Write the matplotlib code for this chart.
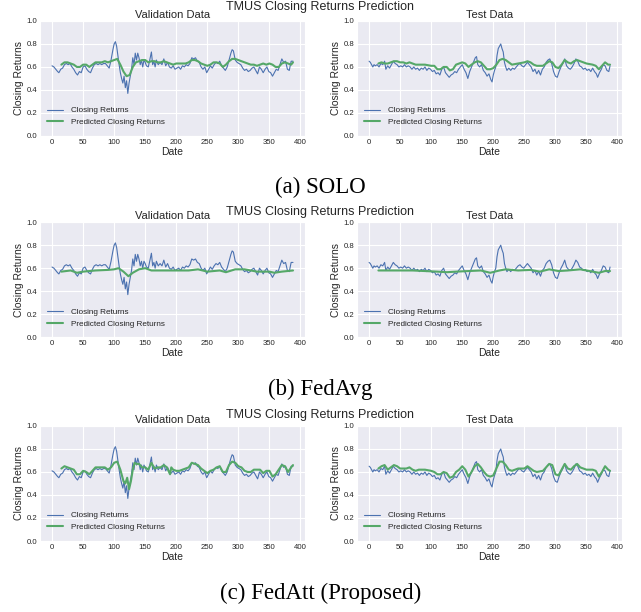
import numpy as np
import matplotlib
matplotlib.use("Agg")
import matplotlib.pyplot as plt
import seaborn as sns

val_days = [0, 3, 6, 9, 11, 14, 17, 20, 23, 26,
            29, 32, 35, 38, 41, 44, 47, 50, 53, 56,
            59, 62, 65, 68, 71, 74, 77, 80, 83, 86,
            89, 92, 95, 98, 100, 102, 104, 106, 108, 110,
            112, 114, 116, 118, 120, 122, 124, 126, 128, 130,
            132, 134, 136, 138, 140, 142, 144, 146, 148, 150,
            152, 155, 158, 160, 162, 164, 166, 168, 171, 174,
            177, 180, 183, 186, 189, 192, 195, 198, 201, 204,
            207, 210, 213, 216, 219, 222, 225, 228, 231, 234,
            237, 240, 243, 246, 249, 252, 255, 258, 261, 264,
            267, 270, 273, 276, 279, 282, 285, 288, 290, 292,
            295, 298, 301, 304, 307, 310, 313, 316, 319, 322,
            325, 328, 331, 334, 337, 340, 343, 346, 349, 352,
            355, 358, 361, 364, 367, 370, 373, 376, 379, 382,
            385, 388]
val_actual = [0.61, 0.60, 0.58, 0.56, 0.55, 0.58, 0.59, 0.62, 0.63, 0.62,
              0.63, 0.60, 0.58, 0.55, 0.53, 0.56, 0.55, 0.60, 0.61, 0.58,
              0.56, 0.55, 0.59, 0.62, 0.63, 0.62, 0.63, 0.62, 0.63, 0.63,
              0.61, 0.59, 0.66, 0.75, 0.80, 0.82, 0.78, 0.70, 0.62, 0.55,
              0.50, 0.46, 0.52, 0.42, 0.48, 0.37, 0.46, 0.52, 0.58, 0.68,
              0.62, 0.72, 0.66, 0.72, 0.68, 0.62, 0.66, 0.60, 0.66, 0.64,
              0.61, 0.60, 0.68, 0.73, 0.62, 0.65, 0.60, 0.66, 0.62, 0.64,
              0.62, 0.67, 0.61, 0.64, 0.60, 0.59, 0.61, 0.58, 0.59, 0.60,
              0.58, 0.61, 0.60, 0.62, 0.61, 0.63, 0.68, 0.67, 0.68, 0.65,
              0.64, 0.60, 0.58, 0.60, 0.55, 0.58, 0.61, 0.59, 0.62, 0.64,
              0.63, 0.65, 0.61, 0.59, 0.57, 0.60, 0.66, 0.72, 0.75, 0.74,
              0.66, 0.64, 0.63, 0.62, 0.59, 0.57, 0.58, 0.56, 0.57, 0.59,
              0.60, 0.57, 0.54, 0.60, 0.58, 0.55, 0.58, 0.60, 0.56, 0.55,
              0.52, 0.55, 0.58, 0.57, 0.62, 0.67, 0.64, 0.65, 0.58, 0.57,
              0.65, 0.65]

# validation predictions
val_pred_days = [15, 20, 25, 30, 35, 40, 45, 50, 55, 60, 65, 70, 75, 80, 85, 90, 95, 100, 105,
                 110, 115, 120, 125, 130, 135, 140, 145, 150, 155, 160, 165, 170, 175, 180,
                 185, 190, 195, 200, 205, 210, 215, 220, 225, 230, 235, 240, 245, 250, 255,
                 260, 265, 270, 275, 280, 285, 290, 295, 300, 305, 310, 315, 320, 325, 330,
                 335, 340, 345, 350, 355, 360, 365, 370, 375, 380, 385, 388]
val_solo = [0.62, 0.64, 0.64, 0.63, 0.62, 0.60, 0.60, 0.62, 0.62, 0.60, 0.62, 0.64, 0.64, 0.64,
            0.65, 0.64, 0.65, 0.66, 0.67, 0.62, 0.56, 0.52, 0.53, 0.60, 0.64, 0.65, 0.66, 0.66,
            0.64, 0.65, 0.65, 0.64, 0.64, 0.65, 0.64, 0.63, 0.62, 0.63, 0.63, 0.63, 0.63, 0.64,
            0.66, 0.66, 0.65, 0.63, 0.62, 0.61, 0.62, 0.64, 0.64, 0.63, 0.60, 0.62, 0.65, 0.67,
            0.67, 0.66, 0.65, 0.64, 0.63, 0.62, 0.62, 0.61, 0.62, 0.63, 0.62, 0.63, 0.62, 0.60,
            0.60, 0.63, 0.64, 0.63, 0.62, 0.64]
val_fedavg_days = [15, 30, 40, 50, 70, 90, 100, 107, 115, 123, 130, 140, 150, 160, 180, 200,
                   220, 235, 250, 270, 280, 295, 310, 330, 350, 358, 370, 388]
val_fedavg = [0.57, 0.58, 0.56, 0.57, 0.58, 0.585, 0.59, 0.60, 0.57, 0.53, 0.56, 0.59, 0.60,
              0.58, 0.58, 0.58, 0.58, 0.59, 0.57, 0.58, 0.565, 0.59, 0.59, 0.57, 0.57, 0.56,
              0.57, 0.58]
val_fedatt_days = [15, 20, 25, 30, 35, 40, 45, 50, 55, 60, 65, 70, 75, 80, 85, 90, 95, 100, 105,
                   110, 115, 118, 121, 124, 127, 130, 133, 136, 140, 145, 150, 155, 160, 165,
                   170, 175, 180, 185, 190, 192, 195, 200, 205, 210, 215, 220, 225, 230, 235,
                   240, 245, 250, 255, 260, 265, 270, 275, 280, 285, 290, 295, 300, 305, 310,
                   315, 320, 325, 330, 335, 340, 345, 350, 355, 360, 365, 370, 375, 380, 385, 388]
val_fedatt = [0.63, 0.65, 0.64, 0.63, 0.62, 0.58, 0.58, 0.61, 0.60, 0.58, 0.61, 0.64, 0.64, 0.64,
              0.64, 0.62, 0.64, 0.68, 0.69, 0.62, 0.52, 0.50, 0.55, 0.45, 0.52, 0.62, 0.68, 0.67,
              0.67, 0.64, 0.64, 0.62, 0.68, 0.63, 0.64, 0.64, 0.66, 0.64, 0.58, 0.64, 0.62, 0.61,
              0.61, 0.62, 0.63, 0.64, 0.68, 0.67, 0.66, 0.63, 0.61, 0.59, 0.61, 0.62, 0.64, 0.65,
              0.60, 0.60, 0.66, 0.69, 0.68, 0.65, 0.64, 0.61, 0.60, 0.60, 0.62, 0.62, 0.62, 0.59,
              0.61, 0.61, 0.56, 0.58, 0.62, 0.66, 0.65, 0.60, 0.64, 0.66]

# test set: actual closing returns
test_days = [0, 2, 4, 6, 8, 10, 13, 16, 19, 22,
             25, 27, 30, 33, 36, 39, 42, 45, 48, 51,
             54, 57, 60, 63, 66, 69, 72, 75, 78, 81,
             84, 87, 90, 93, 96, 99, 102, 105, 108, 111,
             114, 117, 120, 123, 126, 129, 132, 135, 138, 141,
             144, 147, 150, 153, 156, 159, 162, 165, 168, 171,
             173, 175, 178, 181, 184, 187, 190, 193, 196, 198,
             200, 202, 204, 206, 208, 210, 212, 214, 216, 218,
             220, 222, 225, 228, 231, 234, 237, 240, 243, 246,
             249, 252, 255, 258, 261, 264, 267, 270, 273, 276,
             279, 282, 285, 288, 291, 294, 297, 300, 303, 306,
             309, 312, 315, 318, 321, 324, 327, 330, 333, 336,
             339, 342, 345, 348, 351, 354, 357, 360, 363, 366,
             368, 371, 374, 377, 380, 383, 386, 388]
test_actual = [0.65, 0.64, 0.62, 0.60, 0.62, 0.61, 0.62, 0.60, 0.63, 0.62,
               0.65, 0.58, 0.61, 0.59, 0.62, 0.65, 0.63, 0.62, 0.60, 0.61,
               0.60, 0.62, 0.60, 0.61, 0.60, 0.58, 0.60, 0.58, 0.59, 0.57,
               0.59, 0.58, 0.60, 0.57, 0.59, 0.58, 0.56, 0.57, 0.54, 0.55,
               0.53, 0.58, 0.60, 0.55, 0.53, 0.51, 0.53, 0.54, 0.56, 0.55,
               0.58, 0.60, 0.62, 0.58, 0.55, 0.50, 0.56, 0.60, 0.64, 0.68,
               0.69, 0.62, 0.60, 0.62, 0.57, 0.55, 0.52, 0.54, 0.49, 0.47,
               0.53, 0.57, 0.60, 0.70, 0.76, 0.78, 0.80, 0.76, 0.73, 0.64,
               0.60, 0.57, 0.59, 0.57, 0.59, 0.58, 0.60, 0.62, 0.63, 0.61,
               0.60, 0.62, 0.64, 0.62, 0.60, 0.56, 0.58, 0.54, 0.57, 0.53,
               0.58, 0.60, 0.64, 0.66, 0.67, 0.63, 0.56, 0.52, 0.51, 0.56,
               0.60, 0.63, 0.67, 0.61, 0.59, 0.58, 0.60, 0.63, 0.67, 0.65,
               0.61, 0.60, 0.58, 0.59, 0.57, 0.58, 0.56, 0.59, 0.56, 0.54,
               0.51, 0.55, 0.58, 0.62, 0.61, 0.57, 0.56, 0.61]

# test predictions
test_pred_days = [15, 20, 25, 30, 35, 40, 45, 50, 55, 60, 65, 70, 75, 80, 90, 100, 105, 110,
                  115, 120, 125, 130, 135, 140, 145, 150, 155, 160, 165, 170, 175, 180, 185,
                  190, 195, 200, 205, 210, 215, 220, 225, 230, 240, 250, 255, 260, 265, 270,
                  280, 285, 290, 295, 300, 305, 310, 315, 320, 325, 330, 335, 340, 345, 350,
                  360, 365, 370, 375, 380, 385, 388]
test_solo = [0.63, 0.64, 0.63, 0.63, 0.64, 0.65, 0.65, 0.64, 0.64, 0.63, 0.64, 0.63, 0.62, 0.62,
             0.62, 0.61, 0.61, 0.58, 0.58, 0.60, 0.60, 0.57, 0.58, 0.62, 0.63, 0.64, 0.63, 0.60,
             0.62, 0.64, 0.65, 0.64, 0.61, 0.58, 0.58, 0.59, 0.62, 0.66, 0.67, 0.66, 0.64, 0.62,
             0.63, 0.64, 0.65, 0.64, 0.62, 0.61, 0.61, 0.63, 0.65, 0.64, 0.60, 0.59, 0.62, 0.66,
             0.64, 0.63, 0.65, 0.66, 0.65, 0.64, 0.63, 0.62, 0.61, 0.58, 0.61, 0.64, 0.62, 0.62]
test_fedatt = [0.63, 0.65, 0.66, 0.62, 0.64, 0.66, 0.65, 0.63, 0.63, 0.63, 0.64, 0.62, 0.61,
               0.62, 0.62, 0.61, 0.60, 0.58, 0.58, 0.60, 0.59, 0.55, 0.56, 0.60, 0.62, 0.65,
               0.62, 0.56, 0.60, 0.65, 0.67, 0.64, 0.60, 0.57, 0.56, 0.57, 0.63, 0.69, 0.69,
               0.66, 0.62, 0.61, 0.63, 0.63, 0.65, 0.63, 0.61, 0.60, 0.61, 0.64, 0.67, 0.66,
               0.58, 0.57, 0.62, 0.67, 0.63, 0.62, 0.65, 0.67, 0.64, 0.63, 0.62, 0.62, 0.61,
               0.56, 0.60, 0.65, 0.62, 0.61]
test_fedavg_days = [15, 30, 50, 70, 90, 110, 125, 140, 160, 180, 195, 210, 220, 240, 260, 275,
                    290, 305, 320, 340, 355, 370, 380, 388]
test_fedavg = [0.58, 0.58, 0.58, 0.58, 0.575, 0.57, 0.565, 0.57, 0.575, 0.58, 0.56, 0.58, 0.59,
               0.58, 0.585, 0.57, 0.59, 0.575, 0.58, 0.59, 0.575, 0.56, 0.575, 0.575]

rows = [
    ("(a) SOLO", (val_pred_days, val_solo), (test_pred_days, test_solo)),
    ("(b) FedAvg", (val_fedavg_days, val_fedavg), (test_fedavg_days, test_fedavg)),
    ("(c) FedAtt (Proposed)", (val_fedatt_days, val_fedatt), (test_pred_days, test_fedatt)),
]

sns.set_style("darkgrid")
plt.rcParams["font.family"] = ["Liberation Sans", "DejaVu Sans"]
plt.rcParams["text.color"] = ".15"
plt.rcParams["axes.labelcolor"] = ".15"
plt.rcParams["xtick.color"] = ".15"
plt.rcParams["ytick.color"] = ".15"

BLUE = "#4C72B0"
GREEN = "#55A868"

fig = plt.figure(figsize=(6.41, 6.12), dpi=100)

row_bottoms = [0.7778, 0.449, 0.116]
row_h = 0.188
lefts = [0.0624, 0.557]
ax_w = 0.4135
suptitle_y = [0.989, 0.654, 0.322]
caption_y = [0.694, 0.364, 0.031]


def draw_panel(ax, days, actual, pdays, pred, title):
    ax.plot(days, actual, color=BLUE, linewidth=0.8, label="Closing Returns")
    ax.plot(pdays, pred, color=GREEN, linewidth=1.5, label="Predicted Closing Returns")
    ax.set_ylim(0, 1.0)
    ax.set_xticks(np.arange(0, 401, 50))
    ax.set_yticks(np.arange(0, 1.01, 0.2))
    ax.tick_params(labelsize=5.6, length=0, pad=2)
    ax.set_title(title, fontsize=8, pad=2)
    ax.set_xlabel("Date", fontsize=7.5, labelpad=1)
    ax.set_ylabel("Closing Returns", fontsize=7.5, labelpad=2)
    ax.legend(loc="lower left", bbox_to_anchor=(0.0, 0.02), fontsize=5.9, frameon=False,
              handlelength=1.9, handletextpad=1.0, labelspacing=0.5, borderaxespad=0.5)


for i, (caption, (vpd, vp), (tpd, tp)) in enumerate(rows):
    ax_v = fig.add_axes([lefts[0], row_bottoms[i], ax_w, row_h])
    draw_panel(ax_v, val_days, val_actual, vpd, vp, "Validation Data")
    ax_t = fig.add_axes([lefts[1], row_bottoms[i], ax_w, row_h])
    draw_panel(ax_t, test_days, test_actual, tpd, tp, "Test Data")
    fig.text(0.5, suptitle_y[i], "TMUS Closing Returns Prediction", ha="center",
             va="center", fontsize=9)
    fig.text(0.5, caption_y[i], caption, ha="center", va="center", fontsize=16.5,
             family="Liberation Serif", color="black")

fig.savefig("out.png", dpi=100)
